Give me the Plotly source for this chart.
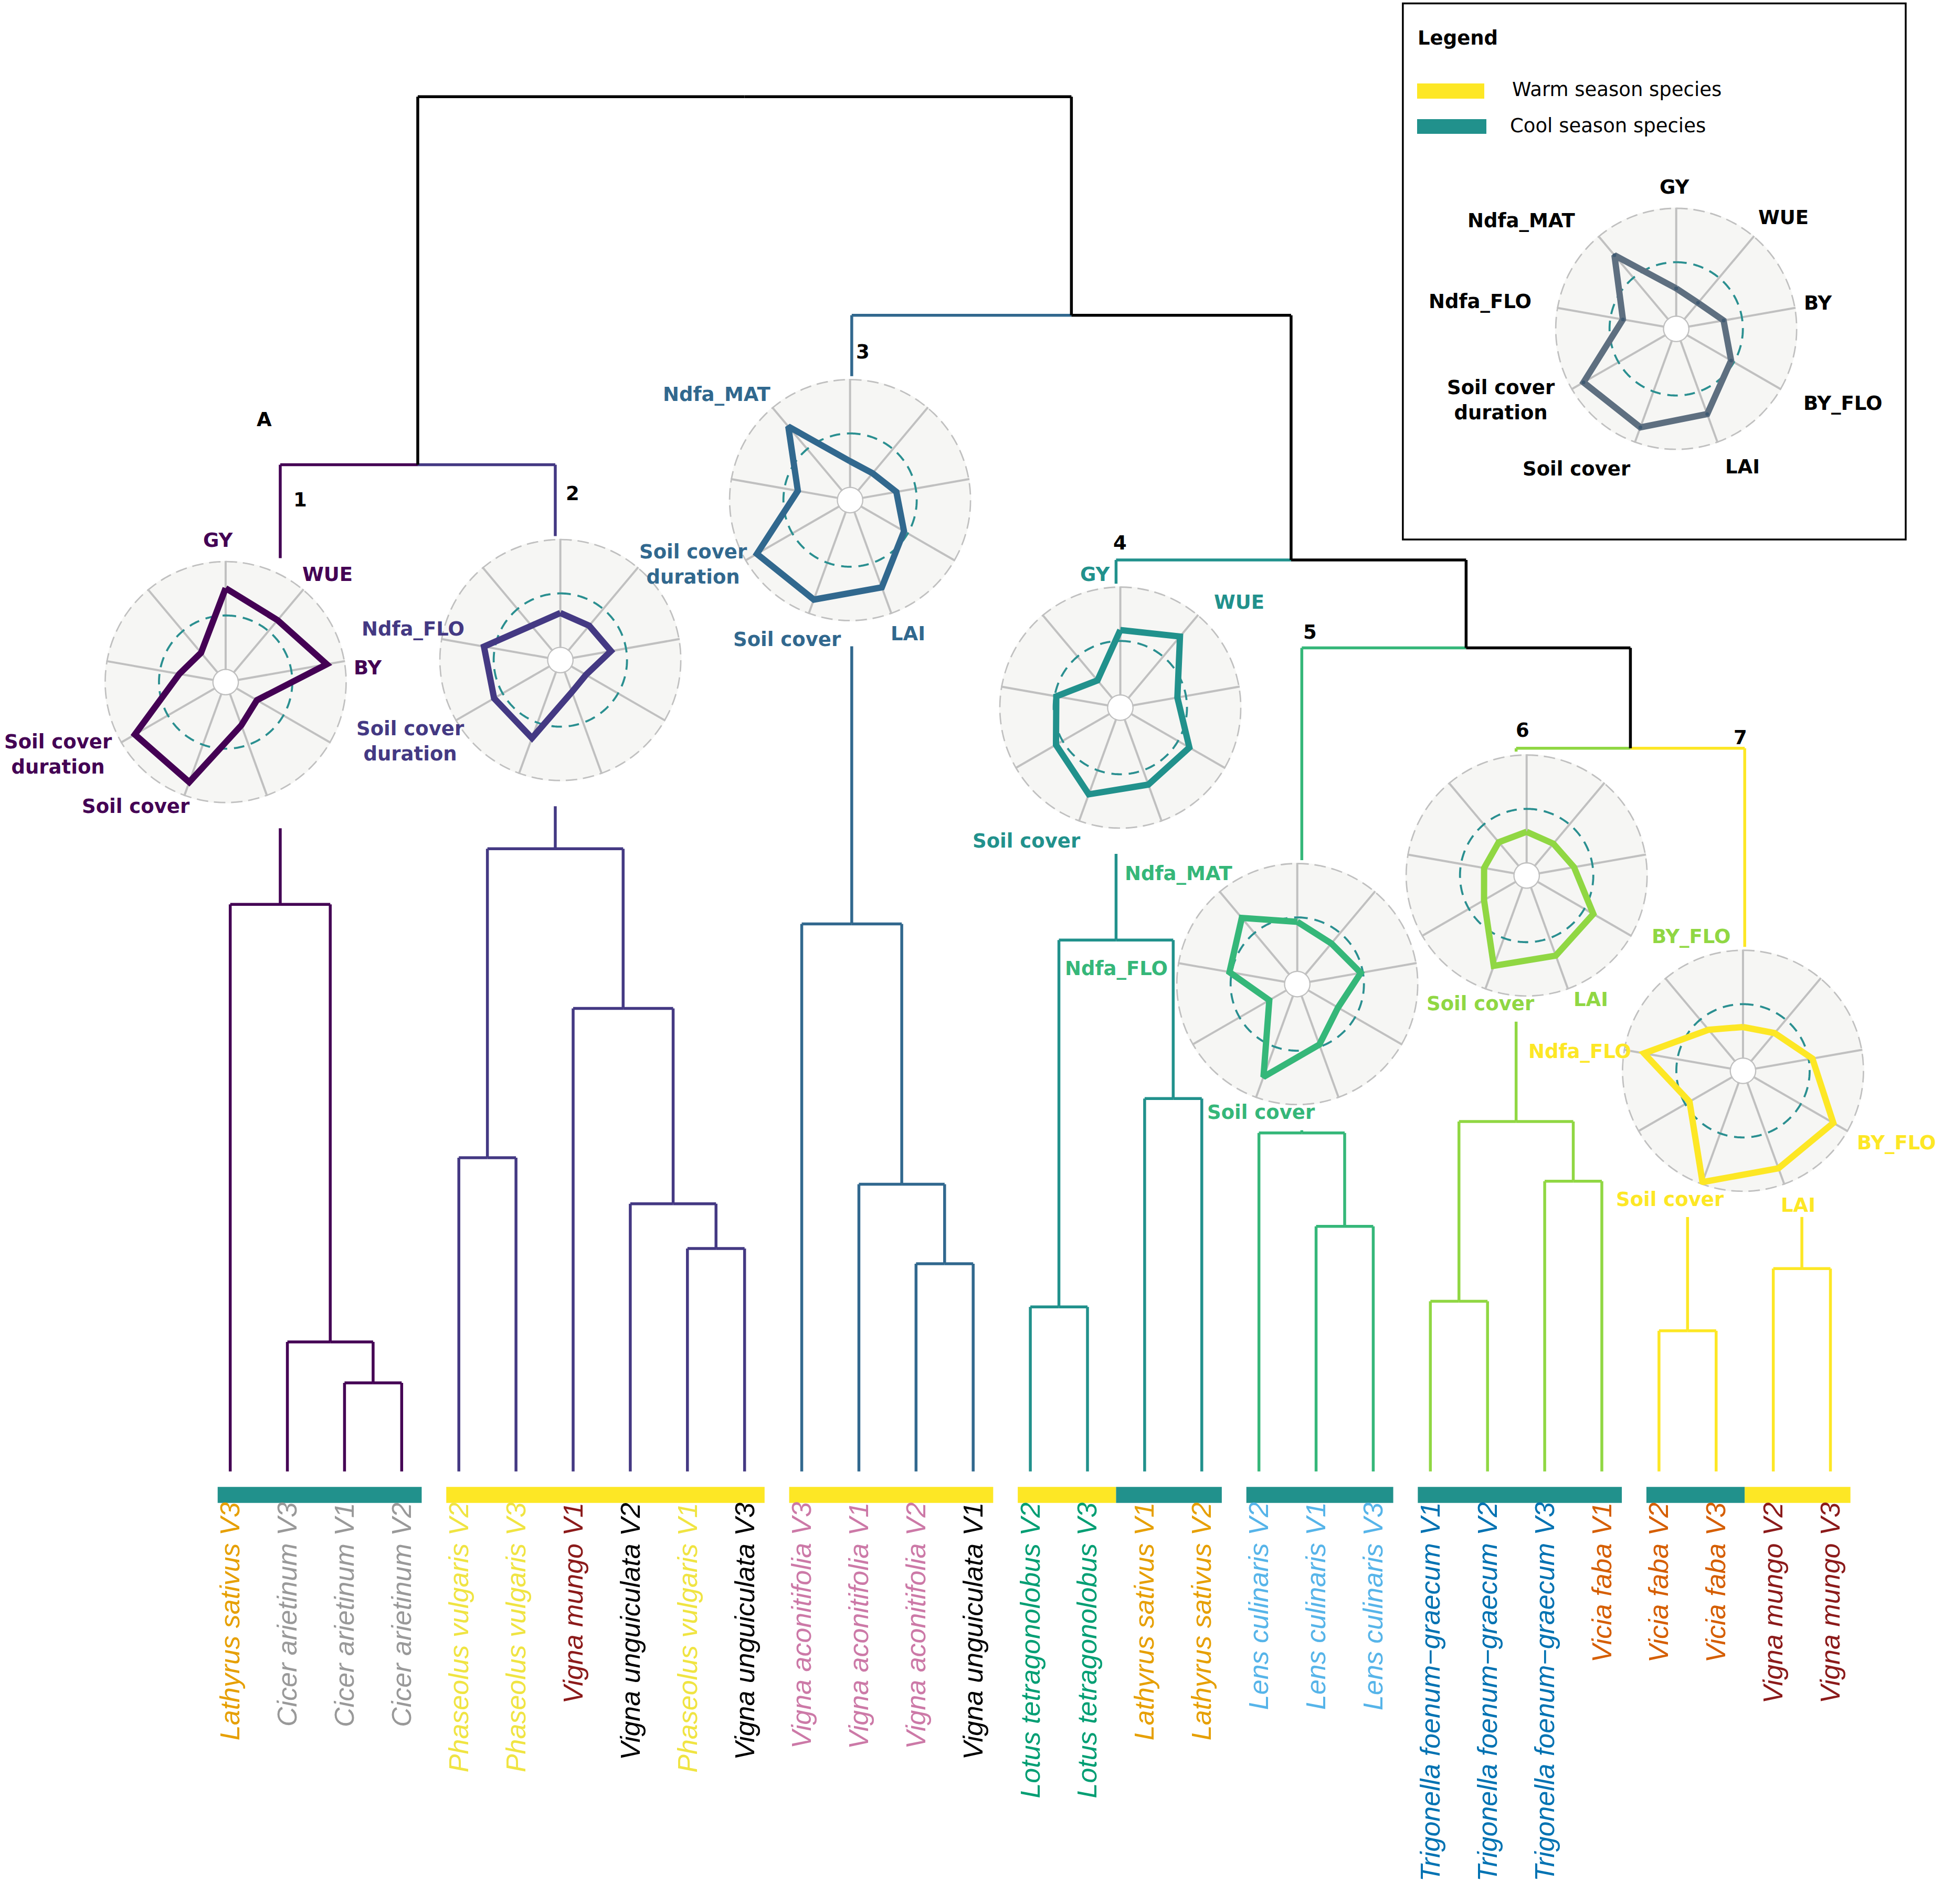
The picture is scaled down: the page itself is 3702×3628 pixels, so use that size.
import numpy as np
import plotly.graph_objects as go

# ---------------------------------------------------------------- data
leaf_labels = [
    "Lathyrus sativus V3", "Cicer arietinum V3", "Cicer arietinum V1", "Cicer arietinum V2",
    "Phaseolus vulgaris V2", "Phaseolus vulgaris V3", "Vigna mungo V1", "Vigna unguiculata V2",
    "Phaseolus vulgaris V1", "Vigna unguiculata V3",
    "Vigna aconitifolia V3", "Vigna aconitifolia V1", "Vigna aconitifolia V2", "Vigna unguiculata V1",
    "Lotus tetragonolobus V2", "Lotus tetragonolobus V3", "Lathyrus sativus V1", "Lathyrus sativus V2",
    "Lens culinaris V2", "Lens culinaris V1", "Lens culinaris V3",
    "Trigonella foenum\u2212graecum V1", "Trigonella foenum\u2212graecum V2",
    "Trigonella foenum\u2212graecum V3", "Vicia faba V1",
    "Vicia faba V2", "Vicia faba V3", "Vigna mungo V2", "Vigna mungo V3",
]
leaf_species = [lab.rsplit(" ", 1)[0] for lab in leaf_labels]
leaf_season = [
    "cool", "cool", "cool", "cool",
    "warm", "warm", "warm", "warm", "warm", "warm",
    "warm", "warm", "warm", "warm",
    "warm", "warm", "cool", "cool",
    "cool", "cool", "cool",
    "cool", "cool", "cool", "cool",
    "cool", "cool", "warm", "warm",
]
leaf_cluster = [1, 1, 1, 1, 2, 2, 2, 2, 2, 2, 3, 3, 3, 3, 4, 4, 4, 4,
                5, 5, 5, 6, 6, 6, 6, 7, 7, 7, 7]

species_colors = {
    "Lathyrus sativus": "#E69F00",
    "Cicer arietinum": "#999999",
    "Phaseolus vulgaris": "#F0E442",
    "Vigna mungo": "#8B1A1A",
    "Vigna unguiculata": "#000000",
    "Vigna aconitifolia": "#CC79A7",
    "Lotus tetragonolobus": "#009E73",
    "Lens culinaris": "#56B4E9",
    "Trigonella foenum\u2212graecum": "#0072B2",
    "Vicia faba": "#D55E00",
}
season_colors = {"warm": "#fde725", "cool": "#21918c"}
season_names = {"warm": "Warm season species", "cool": "Cool season species"}
cluster_colors = {1: "#440154", 2: "#443983", 3: "#31688e", 4: "#21918c",
                  5: "#35b779", 6: "#90d743", 7: "#fde725"}

# linkage: (left node, right node, height); internal nodes numbered from 29
merges = [
    (2, 3, 0.644), (1, 29, 0.942), (0, 30, 4.124),                       # 29-31
    (4, 5, 2.282), (8, 9, 1.621), (7, 33, 1.947), (6, 34, 3.368),
    (32, 35, 4.529),                                                      # 32-36
    (31, 36, 7.323),                                                      # 37
    (12, 13, 1.510), (11, 38, 2.089), (10, 39, 3.982),                   # 38-40
    (14, 15, 1.196), (16, 17, 2.712), (41, 42, 3.865),                   # 41-43
    (19, 20, 1.782), (18, 44, 2.462),                                     # 44-45
    (21, 22, 1.237), (23, 24, 2.111), (46, 47, 2.545),                   # 46-48
    (25, 26, 1.023), (27, 28, 1.475), (49, 50, 2.900),                   # 49-51
    (48, 51, 5.26), (45, 52, 5.99), (43, 53, 6.63), (40, 54, 8.41), (37, 55, 10.0),
]

axes_names = ["GY", "WUE", "BY", "BY_FLO", "LAI", "Soil cover",
              "Soil cover duration", "Ndfa_FLO", "Ndfa_MAT"]
axes_text = {"Soil cover duration": "Soil cover<br>duration"}
radar_values = {
    1: [0.75, 0.63, 0.83, 0.22, 0.31, 0.865, 0.85, 0.32, 0.24],
    2: [0.32, 0.30, 0.36, 0.16, 0.20, 0.65, 0.59, 0.60, 0.30],
    3: [0.245, 0.21, 0.32, 0.46, 0.74, 0.86, 0.875, 0.375, 0.77],
    4: [0.60, 0.74, 0.42, 0.62, 0.64, 0.735, 0.57, 0.485, 0.215],
    5: [0.46, 0.375, 0.48, 0.32, 0.48, 0.795, 0.185, 0.52, 0.68],
    6: [0.29, 0.27, 0.33, 0.595, 0.67, 0.77, 0.34, 0.285, 0.287],
    7: [0.29, 0.34, 0.535, 0.845, 0.84, 0.975, 0.455, 0.81, 0.38],
}
legend_values = [0.26, 0.20, 0.33, 0.47, 0.72, 0.85, 0.87, 0.385, 0.77]
reference_level = 0.5

# ---------------------------------------------------------------- layout constants
W, H = 3702, 3628
REF_W = 1568.0
S = W / REF_W
REF_H = H / S


def px(X):
    return X / REF_W


def py(Y):
    return 1 - Y / REF_H


LEAF_X0, LEAF_DX = 185.8, 46.12
BASE_Y, UNIT_Y = 1187.5, 110.95


def to_dx(X):
    return (X - LEAF_X0) / LEAF_DX


def to_dh(Y):
    return (BASE_Y - Y) / UNIT_Y


R = 97.8
radar_centers = {1: (182.1, 550.5), 2: (452.2, 532.7), 3: (686.0, 403.6), 4: (904.1, 571.1),
                 5: (1046.9, 794.2), 6: (1232.0, 706.6), 7: (1406.6, 864.2), "L": (1352.7, 265.4)}
label_pos = {
    "L": {"GY": (-1.2, -114.2), "WUE": (86.6, -89.9), "BY": (114.3, -21.0), "BY_FLO": (134.3, 60.0),
          "LAI": (53.6, 111.2), "Soil cover": (-80.2, 113.1), "Soil cover duration": (-141.4, 57.6),
          "Ndfa_FLO": (-158.4, -22.1), "Ndfa_MAT": (-124.9, -87.5)},
    1: {"GY": (-6, -114.5), "WUE": (82.4, -87), "BY": (114.8, -11.4),
        "Soil cover duration": (-135, 58.4), "Soil cover": (-72.2, 100.1)},
    2: {"Ndfa_FLO": (-118.9, -24.9), "Soil cover duration": (-120.8, 65.5)},
    3: {"Ndfa_MAT": (-107.6, -85.1), "Soil cover duration": (-126.6, 52.0),
        "Soil cover": (-50.6, 112.4), "LAI": (46.7, 107.7)},
    4: {"GY": (-20.2, -107.4), "WUE": (96, -85.2), "Soil cover": (-75.6, 107.8)},
    5: {"Ndfa_MAT": (-95.8, -89.2), "Ndfa_FLO": (-146.1, -12.6), "Soil cover": (-29.2, 103.5)},
    6: {"BY_FLO": (132.7, 49.4), "Soil cover": (-37.3, 103.4), "LAI": (51.7, 100.1)},
    7: {"Ndfa_FLO": (-131.6, -15.7), "BY_FLO": (123.7, 57.9), "Soil cover": (-59, 103.8),
        "LAI": (44.3, 108.7)},
}
cluster_tags = {"A": (213.4, 338.6), "1": (242.3, 403.6), "2": (462.3, 398.2), "3": (696.5, 284.0),
                "4": (903.9, 438.3), "5": (1057.0, 510.0), "6": (1228.6, 589.2), "7": (1404.5, 595.3)}

FONT = "DejaVu Sans"
LAB_SIZE = 37
GRID_GRAY = "#c0c0c0"

# ---------------------------------------------------------------- dendrogram geometry
n = len(leaf_labels)
node_x = {i: float(i) for i in range(n)}
node_h = {i: 0.0 for i in range(n)}
node_cl = {i: leaf_cluster[i] for i in range(n)}
segments = []
for k, (a, b, h) in enumerate(merges):
    nid = n + k
    xm = (node_x[a] + node_x[b]) / 2
    for c in (a, b):
        segments.append(((node_x[c], node_h[c], node_x[c], h), node_cl[c]))
        segments.append(((node_x[c], h, xm, h), node_cl[c]))
    node_x[nid], node_h[nid] = xm, h
    node_cl[nid] = node_cl[a] if node_cl[a] == node_cl[b] else None

# gaps where each cluster's radar sits
clip_rects = {}
for c in range(1, 8):
    cx, cy = radar_centers[c]
    clip_rects[c] = (to_dx(cx - 96), to_dx(cx + 96), to_dh(cy + 118), to_dh(cy - 100))


def clip(seg, rect):
    x0, y0, x1, y1 = seg
    rx0, rx1, ry0, ry1 = rect
    out = []
    if x0 == x1:
        lo, hi = sorted((y0, y1))
        if not (rx0 <= x0 <= rx1) or hi <= ry0 or lo >= ry1:
            return [seg]
        if lo < ry0:
            out.append((x0, lo, x0, ry0))
        if hi > ry1:
            out.append((x0, ry1, x0, hi))
    else:
        lo, hi = sorted((x0, x1))
        if not (ry0 <= y0 <= ry1) or hi <= rx0 or lo >= rx1:
            return [seg]
        if lo < rx0:
            out.append((lo, y0, rx0, y0))
        if hi > rx1:
            out.append((rx1, y0, hi, y0))
    return out


fig = go.Figure()

groups = {}
for seg, cl in segments:
    pieces = clip(seg, clip_rects[cl]) if cl is not None else [seg]
    groups.setdefault(cl, []).extend(pieces)

for cl, segs in groups.items():
    xs, ys = [], []
    for (x0, y0, x1, y1) in segs:
        xs += [x0, x1, None]
        ys += [y0, y1, None]
    fig.add_trace(go.Scatter(x=xs, y=ys, mode="lines", hoverinfo="skip", showlegend=False,
                             line=dict(color=cluster_colors[cl] if cl else "#000000", width=5.5)))

# season bars
shapes = []
i = 0
while i < n:
    j = i
    while j + 1 < n and leaf_cluster[j + 1] == leaf_cluster[i] and leaf_season[j + 1] == leaf_season[i]:
        j += 1
    start = i - (0.22 if (i == 0 or leaf_cluster[i - 1] != leaf_cluster[i]) else 0.5)
    end = j + (0.35 if (j == n - 1 or leaf_cluster[j + 1] != leaf_cluster[j]) else 0.5)
    shapes.append(dict(type="rect", xref="x", yref="paper", x0=start, x1=end,
                       y0=py(1213.0), y1=py(1200.0), fillcolor=season_colors[leaf_season[i]],
                       line=dict(width=0), layer="above"))
    i = j + 1

annotations = []
for i, lab in enumerate(leaf_labels):
    annotations.append(dict(x=i, xref="x", y=py(1212), yref="paper", text=lab, showarrow=False,
                            textangle=-90, xanchor="center", yanchor="top", borderpad=0,
                            font=dict(family="Liberation Sans", size=52, style="italic",
                                      color=species_colors[leaf_species[i]])))

# ---------------------------------------------------------------- radars
n_ax = len(axes_names)
theta_axes = [k * 360.0 / n_ax for k in range(n_ax)]
circ_theta = np.linspace(0, 360, 361)
circ_n = len(circ_theta)


def add_radar(idx, key, vals, color, lab_color, markers=False):
    cx, cy = radar_centers[key]
    name = "polar" if idx == 1 else f"polar{idx}"
    fig.update_layout(**{name: dict(
        domain=dict(x=[px(cx - R), px(cx + R)], y=[py(cy + R), py(cy - R)]),
        hole=0.1, bgcolor="#f6f6f4",
        radialaxis=dict(range=[0, 1], visible=False),
        angularaxis=dict(rotation=90, direction="clockwise", tickmode="array",
                         tickvals=theta_axes, showticklabels=False, ticks="", showline=False,
                         gridcolor=GRID_GRAY, gridwidth=3.8),
    )})
    fig.add_trace(go.Scatterpolar(r=[1.0] * circ_n, theta=circ_theta, subplot=name, mode="lines",
                                  cliponaxis=False, hoverinfo="skip", showlegend=False,
                                  line=dict(color=GRID_GRAY, width=5.5, dash="22px,11px")))
    fig.add_trace(go.Scatterpolar(r=[0.0] * circ_n, theta=circ_theta, subplot=name, mode="lines",
                                  cliponaxis=False, hoverinfo="skip", showlegend=False,
                                  line=dict(color=GRID_GRAY, width=4.5)))
    fig.add_trace(go.Scatterpolar(r=[reference_level] * circ_n, theta=circ_theta, subplot=name,
                                  mode="lines", cliponaxis=False, hoverinfo="skip", showlegend=False,
                                  line=dict(color="#2a8f90", width=3.8, dash="20px,13px")))
    fig.add_trace(go.Scatterpolar(r=list(vals) + [vals[0]], theta=theta_axes + [theta_axes[0]],
                                  subplot=name, mode="lines+markers" if markers else "lines",
                                  cliponaxis=False, hoverinfo="skip", showlegend=False,
                                  marker=dict(size=7, color="#3f5a72"),
                                  line=dict(color=color, width=12)))
    for ax, (dx, dy) in label_pos[key].items():
        annotations.append(dict(x=px(cx + dx), y=py(cy + dy), xref="paper", yref="paper",
                                text=axes_text.get(ax, ax), showarrow=False, xanchor="center",
                                yanchor="middle", align="center", borderpad=0,
                                font=dict(family=FONT, size=LAB_SIZE, weight="bold", color=lab_color)))


for c in range(1, 8):
    add_radar(c, c, radar_values[c], cluster_colors[c], cluster_colors[c])
add_radar(8, "L", legend_values, "#5e6f80", "#000000", markers=True)

for tag, (X, Y) in cluster_tags.items():
    annotations.append(dict(x=px(X), y=py(Y), xref="paper", yref="paper", text=tag, showarrow=False,
                            xanchor="center", yanchor="middle", borderpad=0,
                            font=dict(family=FONT, size=LAB_SIZE, weight="bold", color="#000000")))

# ---------------------------------------------------------------- legend box
shapes.append(dict(type="rect", xref="paper", yref="paper", x0=px(1132.1), x1=px(1537.9),
                   y0=py(435.4), y1=py(2.8), line=dict(color="#000000", width=3.5),
                   fillcolor="rgba(0,0,0,0)", layer="below"))
for season, Y0, Y1, X1, TX, TY in [
        ("warm", 67.3, 79.6, 1197.8, 1219.8, 72.4),
        ("cool", 96.1, 108.0, 1199.5, 1218.1, 101.6)]:
    shapes.append(dict(type="rect", xref="paper", yref="paper", x0=px(1143.6), x1=px(X1),
                       y0=py(Y1), y1=py(Y0), fillcolor=season_colors[season],
                       line=dict(width=0), layer="above"))
    annotations.append(dict(x=px(TX), y=py(TY), xref="paper", yref="paper", text=season_names[season],
                            showarrow=False, xanchor="left", yanchor="middle", borderpad=0,
                            font=dict(family=FONT, size=LAB_SIZE, color="#000000")))
annotations.append(dict(x=px(1143.6), y=py(30.5), xref="paper", yref="paper", text="Legend",
                        showarrow=False, xanchor="left", yanchor="middle", borderpad=0,
                        font=dict(family=FONT, size=LAB_SIZE, weight="bold", color="#000000")))

fig.update_layout(
    width=W, height=H, margin=dict(l=0, r=0, t=0, b=0),
    paper_bgcolor="white", plot_bgcolor="white", showlegend=False,
    xaxis=dict(domain=[0, 1], range=[to_dx(0), to_dx(REF_W)], visible=False, fixedrange=True),
    yaxis=dict(domain=[0, 1], range=[to_dh(REF_H), to_dh(0)], visible=False, fixedrange=True),
    shapes=shapes, annotations=annotations,
)

fig.write_html("out.html", config={"displayModeBar": False},
               post_script="document.body.style.margin='0px';")
